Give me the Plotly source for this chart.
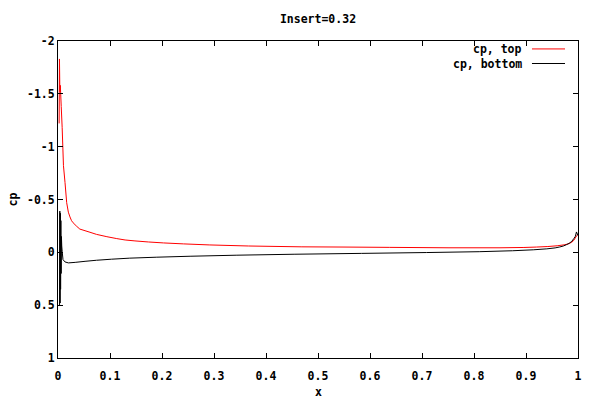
import plotly.graph_objects as go

# ---- data ----
top_x = [0.0022, 0.0028, 0.0036, 0.0045, 0.0062, 0.0080, 0.0105, 0.0135, 0.0167, 0.0199,
         0.023, 0.026, 0.029, 0.036, 0.042, 0.0615, 0.074, 0.094, 0.113, 0.129,
         0.148, 0.174, 0.203, 0.241, 0.292, 0.366, 0.469, 0.55, 0.637, 0.75,
         0.85, 0.896, 0.92, 0.942, 0.96, 0.975, 0.981, 0.988, 0.992, 0.996, 1.0]
top_cp = [-1.22, -1.83, -1.52, -1.58, -1.38, -1.18, -0.82, -0.66, -0.47, -0.38,
          -0.335, -0.30, -0.28, -0.246, -0.22, -0.19, -0.17, -0.148, -0.13, -0.117,
          -0.108, -0.098, -0.089, -0.08, -0.07, -0.06, -0.052, -0.05, -0.047, -0.043,
          -0.043, -0.046, -0.05, -0.055, -0.062, -0.072, -0.08, -0.095, -0.114, -0.146, -0.17]

bot_x = [0.0030, 0.0035, 0.0040, 0.0045, 0.0050, 0.0055, 0.0060, 0.0066, 0.0072, 0.0080,
         0.0096, 0.0135, 0.02, 0.033, 0.052, 0.074, 0.103, 0.138, 0.19, 0.254,
         0.344, 0.454, 0.584, 0.709, 0.81, 0.874, 0.914, 0.94, 0.956, 0.965,
         0.972, 0.978, 0.983, 0.988, 0.992, 0.995, 0.997, 1.0]
bot_cp = [0.5, -0.39, 0.48, -0.37, 0.35, -0.3, 0.2, -0.15, -0.06, -0.01,
          0.069, 0.091, 0.1, 0.095, 0.085, 0.075, 0.065, 0.055, 0.046, 0.037,
          0.027, 0.018, 0.01, 0.002, -0.006, -0.015, -0.024, -0.033, -0.042, -0.051,
          -0.06, -0.073, -0.085, -0.104, -0.13, -0.152, -0.193, -0.16]

x_ticks = [0, 0.1, 0.2, 0.3, 0.4, 0.5, 0.6, 0.7, 0.8, 0.9, 1]
x_ticktext = ["0", "0.1", "0.2", "0.3", "0.4", "0.5", "0.6", "0.7", "0.8", "0.9", "1"]
y_ticks = [-2, -1.5, -1, -0.5, 0, 0.5, 1]
y_ticktext = ["-2", "-1.5", "-1", "-0.5", "0", "0.5", "1"]

series_names = ["cp, top", "cp, bottom"]
series_colors = ["#ff0000", "#000000"]

FONT = "DejaVu Sans Mono"
fsize = 11.5
tfont = dict(family=FONT, size=fsize, color="black", weight="bold")

fig = go.Figure()
fig.add_trace(go.Scatter(x=top_x, y=top_cp, mode="lines", name=series_names[0],
                         line=dict(color=series_colors[0], width=1, simplify=False),
                         showlegend=False))
fig.add_trace(go.Scatter(x=bot_x, y=bot_cp, mode="lines", name=series_names[1],
                         line=dict(color=series_colors[1], width=1, simplify=False),
                         showlegend=False))

# gnuplot-style legend: right-aligned text followed by line sample
leg_y = [0.975, 0.929]
for name, color, yy in zip(series_names, series_colors, leg_y):
    fig.add_annotation(x=0.896, y=yy, xref="paper", yref="paper", text=name,
                       showarrow=False, xanchor="right", yanchor="middle", font=tfont)
    fig.add_shape(type="line", xref="paper", yref="paper", x0=0.9115, x1=0.975,
                  y0=yy, y1=yy, line=dict(color=color, width=1))

# x axis label placed like gnuplot's xlabel
fig.add_annotation(x=0.5, y=-0.107, xref="paper", yref="paper", text="x",
                   showarrow=False, xanchor="center", yanchor="middle", font=tfont)

axis_common = dict(showline=True, linecolor="black", linewidth=1, mirror="ticks",
                   ticks="inside", ticklen=5, tickcolor="black", tickwidth=1,
                   showgrid=False, zeroline=False, automargin=False, tickfont=tfont)

fig.update_xaxes(range=[0, 1], tickvals=x_ticks, ticktext=x_ticktext,
                 ticklabelstandoff=7, **axis_common)
fig.update_yaxes(range=[1, -2], tickvals=y_ticks, ticktext=y_ticktext,
                 title=dict(text="cp", standoff=6, font=tfont), **axis_common)

fig.update_layout(
    width=600, height=400,
    margin=dict(l=58, r=22, t=41, b=42),
    paper_bgcolor="white", plot_bgcolor="white",
    title=dict(text="Insert=0.32", x=0.53, xanchor="center", y=0.952, yanchor="middle",
               font=tfont),
)

fig.write_html("out.html")
